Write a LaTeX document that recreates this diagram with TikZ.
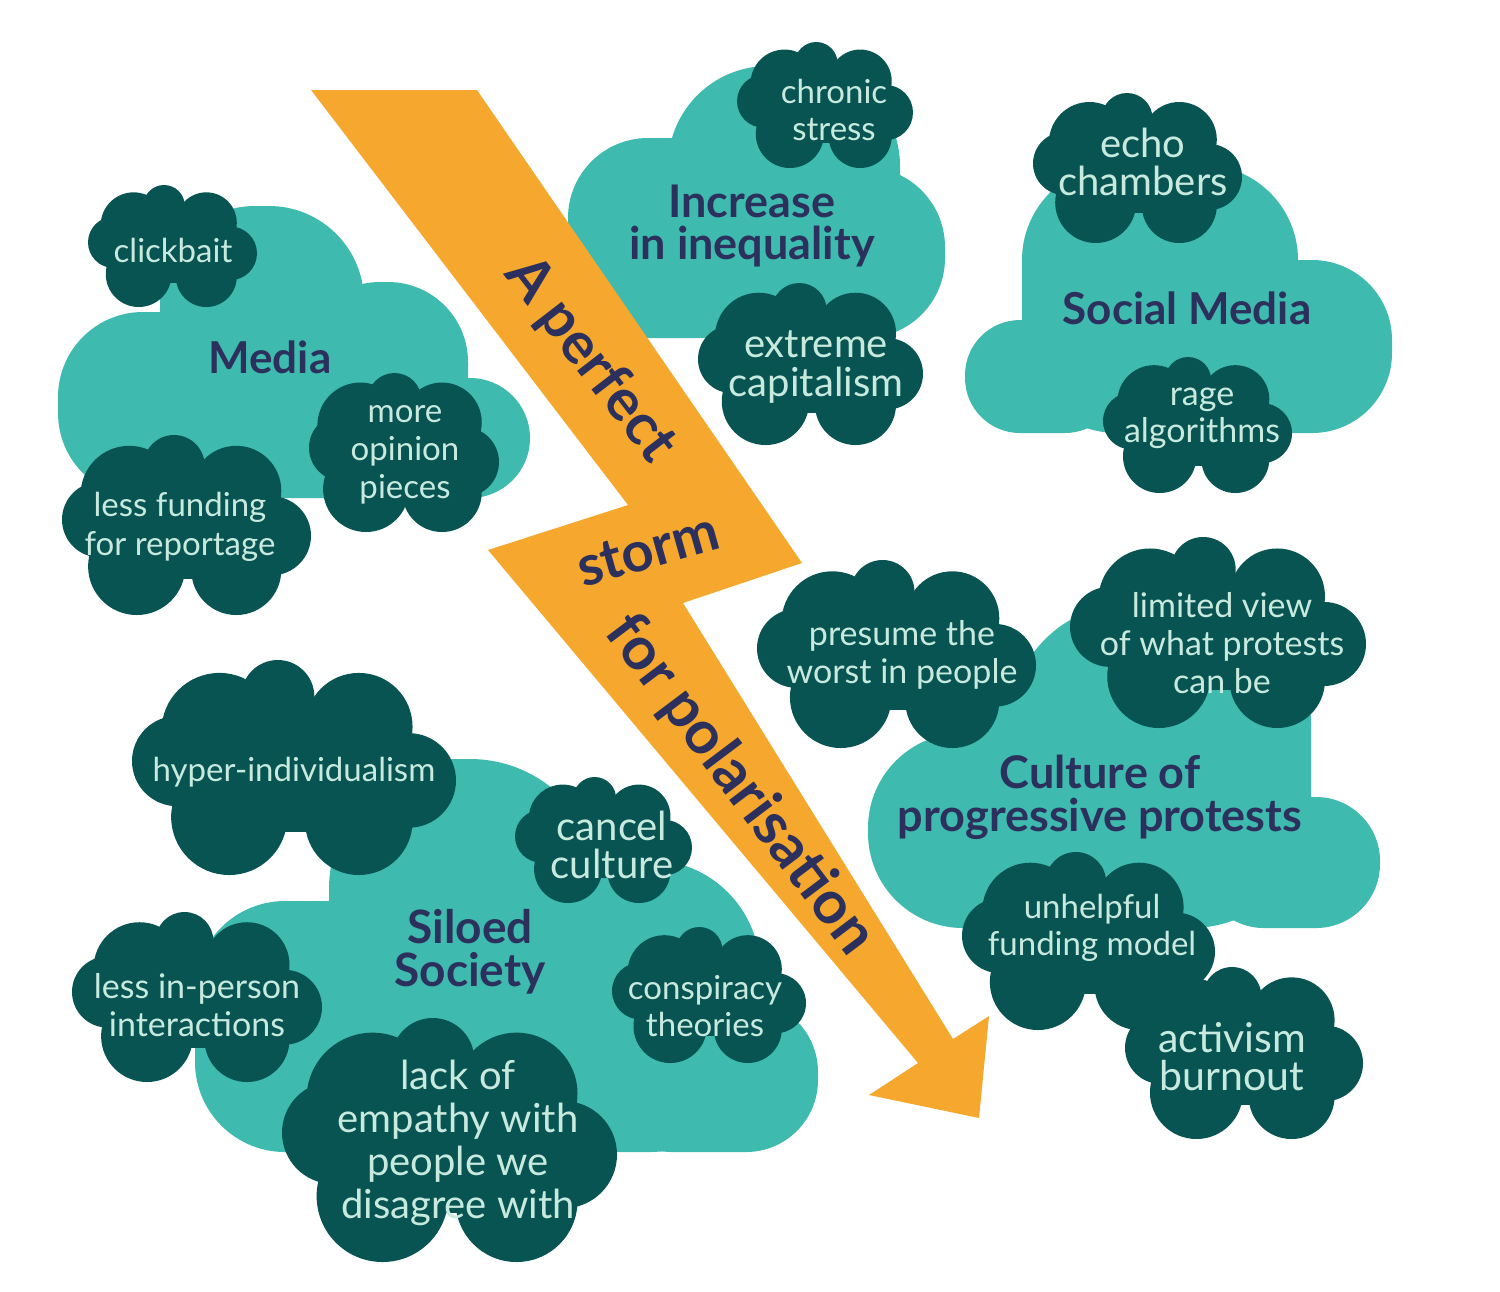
\documentclass[tikz,border=0pt]{standalone}
\usepackage{fontspec}
\setmainfont{Lato}
\newfontfamily\lightf{Lato}
\definecolor{lightc}{HTML}{3EBAAE}
\definecolor{darkc}{HTML}{075452}
\definecolor{boltc}{HTML}{F6A82E}
\definecolor{navy}{HTML}{2C305C}
\definecolor{mint}{HTML}{C8EADE}
\newcommand\pxf[2]{\fontsize{\the\dimexpr 0.28453pt*#1\relax}{\the\dimexpr 0.28453pt*#2\relax}\selectfont}
\newcommand\dcloud[4]{%
 \pgfmathsetmacro\cX{#1}\pgfmathsetmacro\cY{#2}%
 \pgfmathsetmacro\cW{#3-#1}\pgfmathsetmacro\cH{#4-#2}%
 \fill[darkc] ({\cX+0.17*\cW},{\cY+0.26*\cH}) rectangle ({\cX+0.83*\cW},{\cY+0.8*\cH});
 \fill[darkc] ({\cX+0.45*\cW},{\cY+0.17*\cH}) circle[radius={0.17*\cH}];
 \fill[darkc] ({\cX+0.27*\cW},{\cY+0.33*\cH}) circle[radius={0.27*\cH}];
 \fill[darkc] ({\cX+0.70*\cW},{\cY+0.31*\cH}) circle[radius={0.25*\cH}];
 \fill[darkc] ({\cX+0.21*\cH},{\cY+0.47*\cH}) circle[radius={0.21*\cH}];
 \fill[darkc] ({\cX+\cW-0.22*\cH},{\cY+0.56*\cH}) circle[radius={0.22*\cH}];
 \fill[darkc] ({\cX+0.30*\cW},{\cY+0.73*\cH}) circle[radius={0.27*\cH}];
 \fill[darkc] ({\cX+0.70*\cW},{\cY+0.75*\cH}) circle[radius={0.25*\cH}];
}
\tikzset{
 lbl/.style={text=mint, align=center, inner sep=0pt, font=\lightf\pxf{33}{38}},
 lblbig/.style={text=mint, align=center, inner sep=0pt, font=\lightf\pxf{40}{38}},
 title/.style={text=navy, align=center, inner sep=0pt, font=\bfseries\pxf{44}{42}},
 bolttxt/.style={text=navy, inner sep=0pt, font=\bfseries\pxf{60}{60}},
}
\begin{document}
\begin{tikzpicture}[x=0.1mm,y=-0.1mm]
\useasboundingbox (0,0) rectangle (1500,1291);
% ---- light clouds
% Media
\fill[lightc,rounded corners=8.5mm] (58,312) rectangle (470,498);
\fill[lightc,rounded corners=9.5mm] (160,206) rectangle (364,420);
\fill[lightc,rounded corners=8mm] (300,282) rectangle (468,470);
\fill[lightc,rounded corners=6mm] (380,378) rectangle (530,498);
% Increase in inequality
\fill[lightc,rounded corners=8mm] (568,138) rectangle (790,338);
\fill[lightc,rounded corners=10mm] (668,66) rectangle (900,300);
\fill[lightc,rounded corners=8mm] (700,167) rectangle (945,338);
% Social Media
\fill[lightc,rounded corners=5.5mm] (965,320) rectangle (1120,433);
\fill[lightc,rounded corners=9.5mm] (1022,165) rectangle (1298,433);
\fill[lightc,rounded corners=8mm] (1200,260) rectangle (1392,433);
% Siloed Society
\fill[lightc,rounded corners=9mm] (195,901) rectangle (420,1152);
\fill[lightc,rounded corners=13mm] (329,759) rectangle (600,1152);
\fill[lightc,rounded corners=11mm] (500,860) rectangle (760,1152);
\fill[lightc,rounded corners=7.2mm] (600,1000) rectangle (818,1152);
% Culture of progressive protests
\fill[lightc,rounded corners=9.5mm] (868,733) rectangle (1060,928);
\fill[lightc] (950,700) rectangle (1015,800);
\fill[lightc,rounded corners=12mm] (1010,604) rectangle (1311,928);
\fill[lightc,rounded corners=6.4mm] (1200,797) rectangle (1380,928);
% ---- lightning bolt
\fill[boltc] (311,90) -- (477,90) -- (802,563) -- (683,603) -- (953,1039) -- (989,1016)
  -- (979,1118) -- (869,1095) -- (918,1063) -- (488,550) -- (628,505) -- cycle;
% ---- dark clouds
\dcloud{88}{185}{257}{307}
\dcloud{62}{435}{311}{615}
\dcloud{309}{373}{499}{532}
\dcloud{737}{42}{913}{168}
\dcloud{698}{283}{923}{445}
\dcloud{1033}{93}{1242}{243}
\dcloud{1103}{357}{1292}{493}
\dcloud{132}{660}{456}{875}
\dcloud{515}{777}{692}{903}
\dcloud{72}{912}{322}{1082}
\dcloud{612}{927}{806}{1063}
\dcloud{282}{1018}{617}{1262}
\dcloud{757}{560}{1036}{748}
\dcloud{1070}{537}{1366}{728}
\dcloud{962}{852}{1215}{1030}
\dcloud{1125}{967}{1363}{1139}
% ---- titles
\node[title] (media) at (270,357) {Media};
\node[title, font=\bfseries\pxf{45}{42}] (ineq) at (752,226) {Increase\\in inequality};
\node[title] (social) at (1187,308) {Social Media};
\node[title, font=\bfseries\pxf{46}{43}] (siloed) at (470,952) {Siloed\\Society};
\node[title, font=\bfseries\pxf{45}{43}] (culture) at (1100,797) {Culture of\\progressive protests};
% ---- labels in dark clouds
\node[lbl] (clickbait) at (173,250) {clickbait};
\node[lbl, font=\lightf\pxf{33}{39}] (funding) at (180,527) {less funding\\for reportage};
\node[lbl] (opinion) at (405,455) {more\\opinion\\pieces};
\node[lbl, font=\lightf\pxf{33}{37}] (chronic) at (834,110) {chronic\\stress};
\node[lblbig, font=\lightf\pxf{40}{39}] (capitalism) at (816,367) {extreme\\capitalism};
\node[lblbig] (echo) at (1143,162) {echo\\chambers};
\node[lbl, font=\lightf\pxf{34}{37}] (rage) at (1202,418) {rage\\algorithms};
\node[lbl] (hyper) at (294,772) {hyper-individualism};
\node[lblbig] (cancel) at (612,845) {cancel\\culture};
\node[lbl, font=\lightf\pxf{34}{38}] (inperson) at (197,1005) {less in-person\\interactions};
\node[lbl, font=\lightf\pxf{33}{37}] (conspiracy) at (705,1006) {conspiracy\\theories};
\node[lblbig, font=\lightf\pxf{40}{43}] (empathy) at (458,1143) {lack of\\empathy with\\people we\\disagree with};
\node[lbl, font=\lightf\pxf{34}{38}] (presume) at (902,655) {presume the\\worst in people};
\node[lbl, font=\lightf\pxf{34}{38}] (limited) at (1222,643) {limited view\\of what protests\\can be};
\node[lbl, font=\lightf\pxf{33}{37}] (unhelpful) at (1092,928) {unhelpful\\funding model};
\node[lblbig, font=\lightf\pxf{41}{38}] (activism) at (1232,1057) {activism\\burnout};
% ---- bolt text
\node[bolttxt, font=\bfseries\pxf{58}{58}, rotate=-52.4] (perfect) at (590,360) {A perfect};
\node[bolttxt, font=\bfseries\pxf{56}{56}, rotate=15.7] (storm) at (648,550) {storm};
\node[bolttxt, rotate=-53] (polar) at (740,785) {for polarisation};
\end{tikzpicture}
\end{document}
